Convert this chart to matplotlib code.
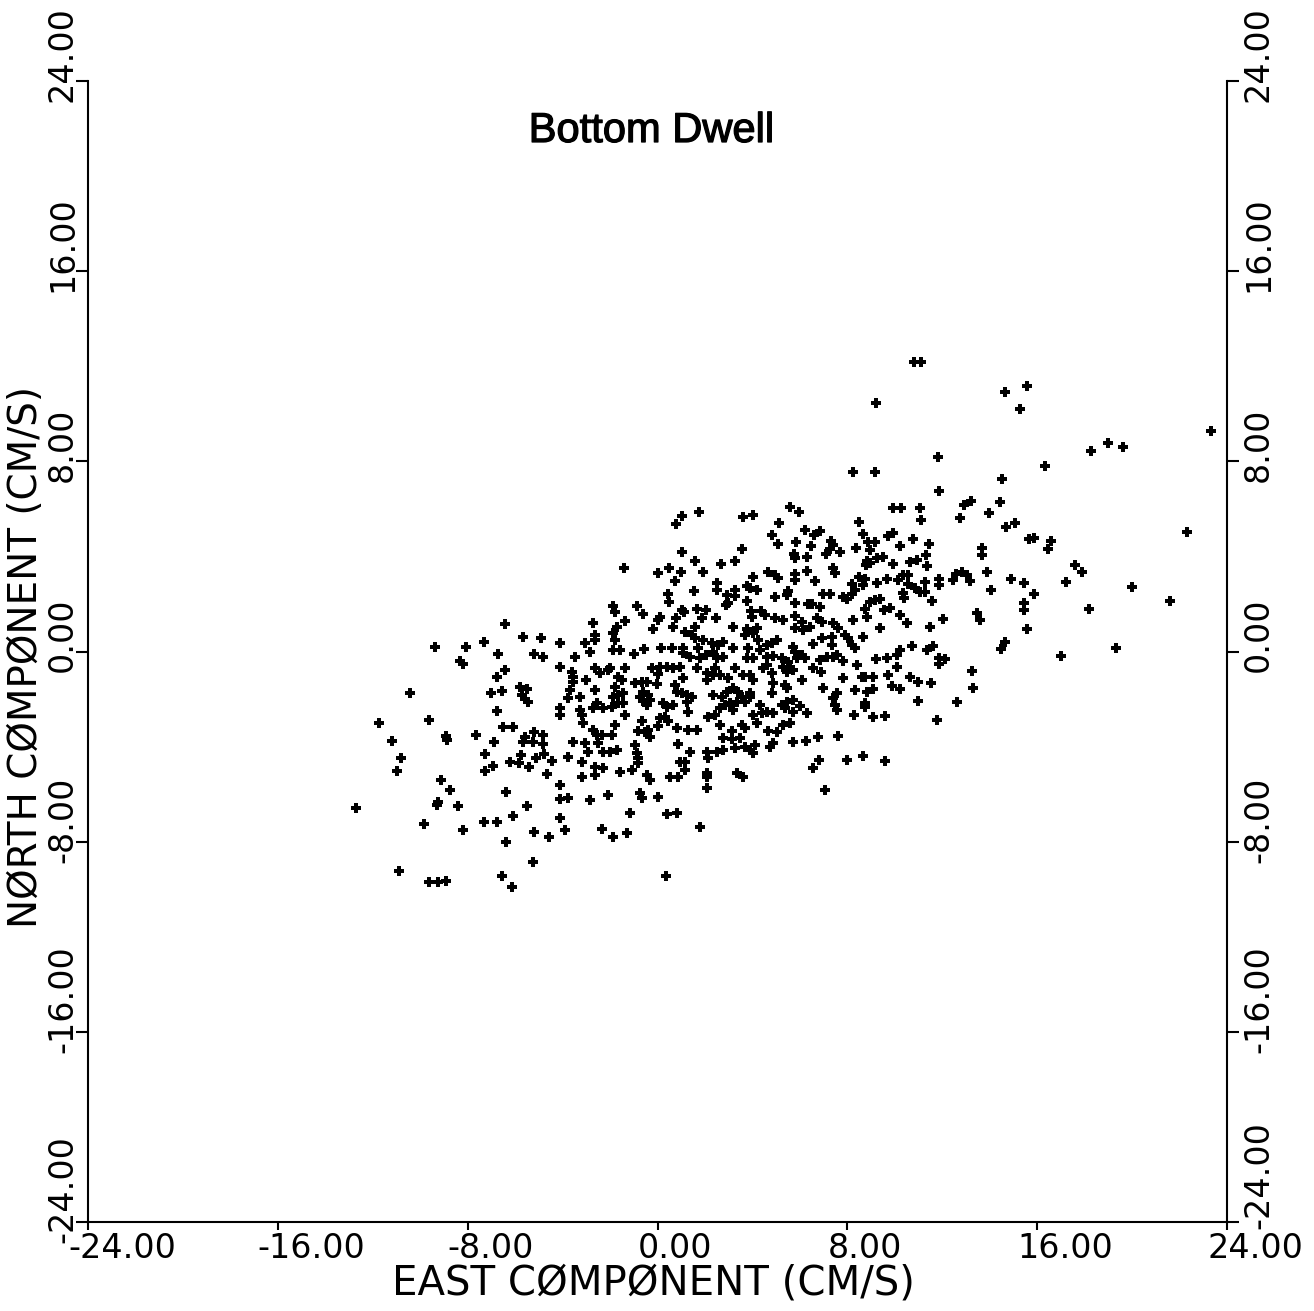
import matplotlib
matplotlib.use("Agg")
import matplotlib.pyplot as plt
import matplotlib.patheffects as pe
from matplotlib.transforms import ScaledTranslation
import numpy as np

# ---------------- data (cm/s) ----------------
# outer points (upper right, far east)
east_outer = [10.81, 11.10, 9.21, 14.64, 15.57, 15.28, 23.32, 18.27, 18.98, 19.62,
              16.33, 14.52, 14.43, 14.69, 15.07, 15.66, 15.87, 16.58, 16.46, 22.31,
              17.59, 17.89, 17.21, 20.00, 14.90, 15.44, 15.87, 15.44, 15.44, 18.18,
              21.60, 15.57, 14.64, 14.48, 17.00, 19.32]
north_outer = [12.18, 12.18, 10.45, 10.92, 11.17, 10.20, 9.28, 8.43, 8.77, 8.60,
               7.80, 7.26, 6.29, 5.24, 5.41, 4.73, 4.78, 4.65, 4.31, 5.03,
               3.64, 3.35, 2.92, 2.71, 3.05, 2.88, 2.42, 2.04, 1.75, 1.79,
               2.12, 0.95, 0.40, 0.11, -0.19, 0.15]

# east 5..14, north 1..8
east_ne = [8.24, 9.17, 11.82, 11.86, 12.92, 13.21, 12.75, 13.97, 5.58, 5.96,
           9.92, 10.26, 11.06, 11.10, 8.49, 6.22, 6.60, 6.85, 8.66, 9.71,
           9.92, 10.77, 5.84, 6.47, 7.31, 7.40, 7.27, 7.69, 8.36, 8.87,
           9.17, 8.95, 10.22, 11.44, 13.67, 13.67, 5.75, 6.30, 5.79, 7.10,
           8.83, 8.95, 9.25, 9.50, 8.79, 9.92, 10.64, 10.94, 11.31, 11.36,
           7.40, 7.48, 6.30, 5.79, 5.79, 6.64, 8.49, 8.74, 8.66, 8.20,
           8.32, 8.20, 9.25, 9.67, 10.13, 10.35, 10.56, 10.56, 10.85, 11.06,
           11.27, 11.27, 11.86, 11.86, 12.58, 12.83, 13.04, 13.17, 12.45, 13.89,
           14.05, 10.35, 10.39, 11.57, 5.46, 5.50, 6.97, 7.27, 5.79, 6.34,
           6.51, 6.85, 7.82, 7.99, 8.95, 9.17, 9.38, 8.74, 8.83, 8.24,
           9.80, 9.54, 10.22, 10.51, 12.03, 13.46, 13.59, 6.72, 6.93, 5.79,
           5.29, 6.09, 7.40]
north_ne = [7.55, 7.55, 8.18, 6.75, 6.16, 6.33, 5.62, 5.83, 6.08, 5.87,
            6.04, 6.04, 6.04, 5.53, 5.45, 5.11, 4.90, 5.07, 4.94, 4.86,
            4.99, 4.73, 4.61, 4.44, 4.65, 4.48, 4.31, 4.19, 4.35, 4.61,
            4.61, 4.27, 4.44, 4.52, 4.35, 4.06, 4.10, 3.98, 3.94, 4.10,
            3.81, 3.72, 3.94, 3.98, 3.64, 3.68, 3.77, 3.85, 4.06, 3.60,
            3.51, 3.30, 3.39, 3.26, 3.01, 2.97, 3.13, 3.05, 2.80, 2.84,
            2.59, 2.42, 2.88, 3.05, 3.01, 3.22, 3.22, 2.84, 2.67, 2.50,
            2.50, 2.92, 3.05, 2.80, 3.26, 3.35, 3.22, 2.97, 3.01, 3.35,
            2.59, 2.46, 2.25, 2.12, 2.38, 2.55, 2.42, 2.42, 2.04, 2.00,
            2.00, 1.87, 2.29, 2.21, 2.08, 2.17, 2.21, 1.79, 1.45, 1.33,
            1.83, 1.75, 1.54, 1.20, 1.37, 1.62, 1.33, 1.41, 1.24, 1.49,
            1.33, 1.24, 1.20]

# east -3..5, north 1..6
east_n = [1.75, 1.03, 0.78, 3.60, 4.02, 5.12, 4.82, 5.08, 3.56, 1.03,
          -1.41, 1.58, 2.68, 3.27, 0.02, 0.48, 0.99, 1.92, 0.74, 4.02,
          4.66, 4.95, 5.08, 2.51, 2.51, 1.54, 0.44, 0.48, 2.93, 3.27,
          3.27, 3.77, 3.90, 4.19, 2.89, 2.97, 3.77, 4.95, -1.88, -1.79,
          -0.86, -0.61, 0.11, 0.02, 1.03, 1.12, 0.78, 1.66, 2.04, 1.88,
          2.47, 3.94, 3.98, 4.36, 4.53, 4.95, -2.72, -1.37, -6.43]
north_n = [5.87, 5.70, 5.36, 5.66, 5.74, 5.41, 4.90, 4.52, 4.31, 4.19,
           3.51, 3.81, 3.68, 3.81, 3.30, 3.51, 3.35, 3.35, 2.97, 3.13,
           3.35, 3.22, 3.09, 2.88, 2.59, 2.55, 2.42, 2.08, 2.38, 2.59,
           2.33, 2.76, 2.67, 2.59, 1.96, 2.04, 2.12, 2.29, 1.91, 1.66,
           1.91, 1.58, 1.45, 1.33, 1.75, 1.66, 1.41, 1.79, 1.75, 1.41,
           1.41, 1.70, 1.45, 1.70, 1.54, 1.41, 1.20, 1.28, 1.14]

# west / south-west
east_sw = [-5.67, -4.91, -4.10, -9.38, -8.07, -7.31, -6.72, -5.20, -4.83, -8.32,
           -8.20, -4.10, -6.43, -6.76, -5.79, -5.50, -5.71, -5.58, -5.46, -6.55,
           -7.02, -10.43, -4.10, -6.76, -4.10, -11.74, -9.63, -6.51, -6.09, -8.91,
           -8.87, -7.65, -5.58, -5.20, -4.83, -5.67, -5.25, -4.83, -11.19, -6.89,
           -7.27, -5.75, -5.12, -4.78, -4.45, -6.22, -5.84, -5.41, -6.93, -7.27,
           -10.81, -10.98, -4.66, -9.12, -8.74, -6.38, -4.10, -9.25, -9.29, -8.41,
           -12.71, -5.50, -4.10, -6.09, -4.10, -9.84, -7.31, -6.76, -8.20, -5.20,
           -4.57, -6.38, -5.25, -10.89, -9.63, -9.25, -8.91, -6.55, -6.13]
north_sw = [0.61, 0.57, 0.36, 0.19, 0.19, 0.40, -0.11, -0.11, -0.23, -0.40,
            -0.53, -0.65, -0.78, -1.07, -1.49, -1.58, -1.83, -2.00, -2.12, -1.66,
            -1.75, -1.75, -2.38, -2.50, -2.67, -3.01, -2.88, -3.18, -3.18, -3.56,
            -3.72, -3.51, -3.60, -3.39, -3.51, -3.81, -3.81, -3.89, -3.77, -3.81,
            -4.31, -4.35, -4.48, -4.31, -4.61, -4.65, -4.69, -4.86, -4.82, -5.03,
            -4.48, -5.03, -5.15, -5.40, -5.82, -5.91, -5.61, -6.33, -6.45, -6.50,
            -6.58, -6.50, -6.20, -6.92, -7.00, -7.25, -7.17, -7.17, -7.50, -7.59,
            -7.80, -8.01, -8.85, -9.23, -9.70, -9.70, -9.65, -9.44, -9.91]

# core: east -4..5, north -10..1
east_core = [-1.71, -0.19, 0.65, 1.58, 3.18, 3.77, 4.19, -3.06, -2.63, -2.63,
             -1.88, -1.79, 1.16, 1.45, 1.58, 1.92, 2.30, 2.55, 2.76, 3.69,
             4.02, 4.24, 4.61, 4.82, 5.04, -2.84, -3.48, -1.88, -1.58, -0.99,
             -0.57, 0.15, 0.61, 1.07, 1.07, 1.37, 1.79, 2.04, 2.34, 2.51,
             2.76, 3.18, 3.81, 4.32, 4.61, 4.87, 1.71, 3.77, 4.02, -3.60,
             -3.56, -3.56, -2.63, -2.42, -2.09, -2.00, -3.01, -1.37, -1.66, -1.50,
             -0.23, 0.02, 0.11, 0.40, 0.65, 0.95, 1.07, 1.66, 2.09, 2.42,
             2.63, 2.97, 3.27, 3.60, 3.90, 4.02, 4.45, 4.61, 4.82, 2.09,
             2.34, -2.63, -3.69, -3.77, -3.27, -1.79, -1.66, -1.45, -1.88, -0.95,
             -0.65, -0.44, -0.02, 0.74, 0.82, 1.03, 1.24, 1.45, -0.61, -0.40,
             -0.74, 2.34, 2.72, 2.93, 3.18, 3.39, 3.56, 3.90, 4.87, 4.82,
             -3.27, -3.18, -2.55, -2.72, -2.30, -1.92, -1.66, -1.45, -1.37, -0.61,
             -0.32, -0.44, 0.23, 0.40, 0.65, 1.24, 1.29, 2.13, 2.42, 2.63,
             2.84, 3.06, 3.35, 3.69, 3.90, 3.18, 4.02, 4.40, 4.61, 4.87,
             4.32, -3.14, -2.72, -2.55, -2.34, -1.92, -1.79, -0.65, -0.82, -0.53,
             -0.32, -0.40, 0.11, 0.32, 0.44, 0.02, 0.82, 1.29, 1.66, 2.63,
             3.14, 3.56, 3.69, 4.19, 4.66, 5.04, 2.76, 3.14, 3.48, -3.56,
             -3.06, -2.93, -2.51, -2.30, -2.00, -1.71, -3.77, -0.95, -0.86, -0.82,
             0.86, 1.37, 0.95, 1.16, 2.09, 2.13, 2.51, 2.76, 3.27, 3.69,
             3.90, 4.11, 4.02, 4.74, 4.87, -3.18, -2.63, -2.30, -1.58, -3.18,
             -2.63, -1.07, -0.82, -0.44, -0.32, 0.53, 0.86, 1.16, 2.09, 2.09,
             2.09, 3.35, 3.60, -3.77, -2.84, -2.09, -0.74, -0.65, 0.02, -3.90,
             -1.16, 0.40, 0.82, -2.34, -1.88, -1.29, 1.79, 0.36]
north_core = [1.03, 0.95, 1.03, 1.03, 1.03, 0.95, 0.99, 0.36, 0.69, 0.48,
              0.78, 0.48, 0.82, 0.69, 0.57, 0.48, 0.36, 0.27, 0.40, 0.69,
              0.78, 0.48, 0.27, 0.36, 0.48, -0.02, -0.23, 0.06, 0.06, -0.11,
              0.11, 0.15, 0.15, 0.15, -0.06, -0.23, -0.27, -0.15, -0.02, -0.27,
              -0.23, 0.15, 0.15, 0.06, -0.23, -0.19, 0.15, -0.27, -0.27, -0.86,
              -1.07, -1.28, -0.69, -0.90, -0.78, -0.69, -1.20, -0.69, -1.07, -1.20,
              -0.69, -0.95, -0.65, -0.65, -0.69, -0.65, -1.11, -0.69, -0.90, -0.69,
              -0.99, -1.11, -0.69, -0.99, -0.99, -1.20, -0.69, -0.57, -0.90, -1.20,
              -0.99, -1.62, -1.62, -1.96, -1.91, -1.49, -1.83, -1.75, -1.91, -1.32,
              -1.28, -1.28, -1.37, -1.41, -1.70, -1.75, -1.83, -1.91, -1.70, -1.83,
              -1.91, -1.83, -1.91, -1.70, -1.54, -1.70, -1.91, -1.75, -1.32, -1.75,
              -2.46, -2.67, -2.17, -2.38, -2.38, -2.33, -2.17, -2.17, -2.67, -2.08,
              -2.04, -2.25, -2.17, -2.33, -2.25, -2.12, -2.55, -2.76, -2.67, -2.38,
              -2.25, -2.17, -2.12, -2.12, -1.91, -2.46, -2.67, -2.59, -2.55, -2.59,
              -2.25, -3.01, -3.30, -3.51, -3.51, -3.51, -3.09, -2.92, -3.35, -3.39,
              -3.60, -3.30, -2.80, -2.76, -2.92, -3.13, -3.22, -3.30, -3.30, -3.09,
              -3.35, -3.09, -3.22, -3.01, -3.35, -3.39, -3.64, -3.68, -3.64, -3.81,
              -3.85, -4.23, -3.85, -4.23, -4.23, -4.14, -4.44, -3.94, -4.27, -4.48,
              -3.89, -4.23, -4.65, -4.65, -4.23, -4.48, -4.23, -4.14, -4.06, -4.02,
              -4.14, -3.94, -4.27, -4.02, -3.85, -4.65, -4.86, -4.90, -5.07, -5.28,
              -5.19, -4.98, -4.69, -5.19, -5.40, -5.28, -5.28, -4.98, -5.11, -5.28,
              -5.74, -5.11, -5.28, -6.16, -6.24, -6.03, -5.95, -6.16, -6.12, -7.50,
              -6.79, -6.83, -6.79, -7.46, -7.80, -7.63, -7.38, -9.44]

# east 5..14, north -6..1
east_se = [5.79, 6.13, 6.43, 6.93, 7.35, 7.61, 7.90, 8.03, 8.66, 9.38,
           11.48, 5.71, 5.79, 6.55, 7.35, 8.20, 8.32, 5.25, 5.50, 5.88,
           6.09, 6.22, 6.85, 7.14, 7.40, 7.56, 7.82, 9.21, 9.67, 10.09,
           10.22, 10.72, 11.36, 11.61, 11.86, 12.12, 11.86, 5.58, 5.29, 5.71,
           5.46, 6.55, 6.89, 8.41, 10.09, 13.25, 5.37, 5.46, 6.09, 6.97,
           7.82, 8.62, 8.74, 9.08, 9.71, 10.64, 10.98, 11.53, 13.30, 7.56,
           7.40, 7.48, 7.56, 8.32, 8.83, 9.08, 9.88, 10.22, 8.74, 8.74,
           5.46, 5.71, 5.25, 5.37, 5.71, 6.00, 6.30, 8.28, 9.08, 9.59,
           10.98, 12.62, 11.78, 5.29, 5.58, 5.71, 6.26, 6.76, 7.61, 6.81,
           6.55, 7.99, 8.66, 9.59, 7.06]
north_se = [0.99, 0.90, 1.03, 0.57, 0.61, 0.99, 0.69, 0.57, 0.61, 0.99,
            1.03, 0.19, -0.02, 0.32, 0.27, 0.27, 0.15, -0.27, -0.44, -0.27,
            -0.15, -0.27, -0.36, -0.23, -0.23, -0.15, -0.40, -0.32, -0.27, -0.15,
            0.06, 0.23, 0.06, 0.23, -0.27, -0.32, -0.53, -0.65, -0.65, -0.78,
            -0.86, -0.69, -0.86, -0.57, -0.65, -0.82, -1.41, -1.54, -1.20, -1.54,
            -1.11, -1.07, -1.07, -1.07, -0.99, -1.07, -1.28, -1.32, -1.54, -1.75,
            -1.96, -2.25, -2.46, -1.62, -1.70, -1.58, -1.45, -1.58, -2.17, -2.33,
            -2.12, -2.04, -2.25, -2.38, -2.55, -2.29, -2.59, -2.67, -2.76, -2.71,
            -2.08, -2.12, -2.88, -3.09, -3.01, -3.81, -3.77, -3.60, -3.56, -4.56,
            -4.90, -4.56, -4.40, -4.61, -5.82]

ticks = [-24, -16, -8, 0, 8, 16, 24]
tick_labels = ["-24.00", "-16.00", "-8.00", "0.00", "8.00", "16.00", "24.00"]
title = "Bottom Dwell"
xlabel = "EAST CØMPØNENT (CM/S)"
ylabel = "NØRTH CØMPØNENT (CM/S)"

# ---------------- figure ----------------
W, H = 1314, 1311
fig = plt.figure(figsize=(W / 100, H / 100), dpi=100)
ax = fig.add_axes([88 / W, 1 - 1222 / H, (1227 - 88) / W, (1222 - 81) / H])

east = []
north = []
for ex, no in [(east_outer, north_outer), (east_ne, north_ne), (east_n, north_n),
               (east_sw, north_sw), (east_core, north_core), (east_se, north_se)]:
    assert len(ex) == len(no), (len(ex), len(no))
    east += ex
    north += no

ax.plot(east, north, ls="none", marker="P", ms=7.5, mew=0, color="black")

ax.set_xlim(-24, 24)
ax.set_ylim(-24, 24)
ax.spines["top"].set_visible(False)
for s in ("left", "right", "bottom"):
    ax.spines[s].set_linewidth(1.5)
ax.set_xticks(ticks)
ax.set_yticks(ticks)
ax.tick_params(axis="x", direction="out", length=6, width=1.5, labelbottom=False)
ax.tick_params(axis="y", direction="out", length=8.5, width=1.5,
               left=True, right=True, labelleft=False, labelright=False)

tick_font = dict(family="DejaVu Sans", fontsize=24, color="black")
for t, lab in zip(ticks, tick_labels):
    ax.text(t, 0, lab, ha="left", va="top",
            transform=ax.get_xaxis_transform() + ScaledTranslation(-0.20, -0.10, fig.dpi_scale_trans),
            **tick_font)
    ax.text(0, t, lab, rotation=90, rotation_mode="anchor", ha="left", va="baseline",
            transform=ax.get_yaxis_transform() + ScaledTranslation(-0.16, -0.21, fig.dpi_scale_trans),
            **tick_font)
    # right-hand labels; the lowest one is nudged up so it clears the x label "24.00"
    dy_right = -0.07 if t == ticks[0] else -0.21
    ax.text(1, t, lab, rotation=90, rotation_mode="anchor", ha="left", va="top",
            transform=ax.get_yaxis_transform() + ScaledTranslation(0.15, dy_right, fig.dpi_scale_trans),
            **tick_font)

fig.text(653 / W, 1 - 1283 / H, xlabel, ha="center", va="center",
         family="DejaVu Sans", fontsize=29)
fig.text(37 / W, 1 - 657 / H, ylabel, rotation=90, rotation_mode="anchor",
         ha="center", va="baseline", family="DejaVu Sans", fontsize=28)
fig.text(651 / W, 1 - 131 / H, title, ha="center", va="center",
         family="Liberation Sans", fontsize=30,
         path_effects=[pe.withStroke(linewidth=0.9, foreground="black")])

fig.savefig("out.png", dpi=100)
